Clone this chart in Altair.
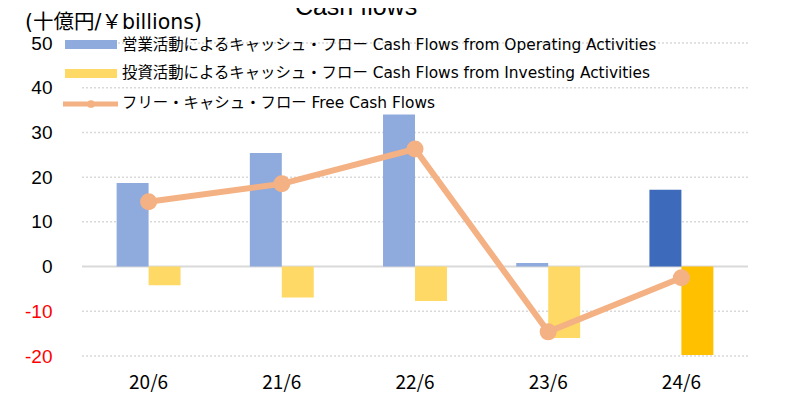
import altair as alt
import pandas as pd

periods = ["20/6", "21/6", "22/6", "23/6", "24/6"]
operating = [18.7, 25.4, 34.0, 0.8, 17.2]
investing = [-4.2, -6.9, -7.7, -16.0, -19.8]
free_cf = [14.5, 18.5, 26.3, -14.6, -2.5]
y_ticks = [-20, -10, 0, 10, 20, 30, 40, 50]
legend_labels = [
    "営業活動によるキャッシュ・フロー Cash Flows from Operating Activities",
    "投資活動によるキャッシュ・フロー Cash Flows from Investing Activities",
    "フリー・キャシュ・フロー Free Cash Flows",
]
title_text = "Cash flows"
unit_text = "(十億円/￥billions)"

C_OP = "#8FAADC"
C_INV = "#FFD966"
C_OP_HL = "#3D6ABA"
C_INV_HL = "#FFC000"
C_FCF = "#F4B183"
GRID = "#D9D9D9"
JP = "Noto Sans CJK JP"
LEG_FONT = "DejaVu Sans, Noto Sans CJK JP"

rows = []
for i, p in enumerate(periods):
    last = i == len(periods) - 1
    rows.append({"period": p, "series": "op", "value": operating[i],
                 "ck": "op_hl" if last else "op"})
    rows.append({"period": p, "series": "inv", "value": investing[i],
                 "ck": "inv_hl" if last else "inv"})
bar_df = pd.DataFrame(rows)
line_df = pd.DataFrame({"period": periods, "fcf": free_cf})
grid_df = pd.DataFrame({"v": [t for t in y_ticks if t != 0]})
zero_df = pd.DataFrame({"v": [0]})

xscale = alt.Scale(domain=periods, paddingInner=0.52, paddingOuter=0.26)
yscale = alt.Scale(domain=[-20, 50], nice=False)

x_axis = alt.Axis(title=None, domain=False, ticks=False, tickSize=0, labelAngle=0,
                  labelFontSize=19, labelFont=JP, labelColor="#000000", labelPadding=17)
y_axis = alt.Axis(title=None, values=y_ticks, grid=False, domain=False, ticks=False,
                  tickSize=0, labelFontSize=19, labelFont="Liberation Sans", labelPadding=30,
                  labelExpr="'' + datum.value",
                  labelColor={"condition": {"test": "datum.value < 0", "value": "#FF0000"},
                              "value": "#000000"})

bars = alt.Chart(bar_df).mark_bar().encode(
    x=alt.X("period:N", sort=periods, scale=xscale, axis=x_axis),
    xOffset=alt.XOffset("series:N", sort=["op", "inv"],
                        scale=alt.Scale(domain=["op", "inv"], paddingInner=0, paddingOuter=0)),
    y=alt.Y("value:Q", scale=yscale, axis=y_axis),
    color=alt.Color("ck:N", legend=None,
                    scale=alt.Scale(domain=["op", "inv", "op_hl", "inv_hl"],
                                    range=[C_OP, C_INV, C_OP_HL, C_INV_HL])),
)

grid = alt.Chart(grid_df).mark_rule(color=GRID, strokeWidth=1.5, strokeDash=[2, 2]).encode(
    y=alt.Y("v:Q", scale=yscale, axis=y_axis)
)
zero = alt.Chart(zero_df).mark_rule(color=GRID, strokeWidth=2).encode(
    y=alt.Y("v:Q", scale=yscale, axis=y_axis)
)

line = alt.Chart(line_df).mark_line(color=C_FCF, strokeWidth=6).encode(
    x=alt.X("period:N", sort=periods, scale=xscale, axis=x_axis),
    y=alt.Y("fcf:Q", scale=yscale, axis=y_axis),
)
pts = alt.Chart(line_df).mark_point(filled=True, color=C_FCF, size=290, opacity=1).encode(
    x=alt.X("period:N", sort=periods, scale=xscale, axis=x_axis),
    y=alt.Y("fcf:Q", scale=yscale, axis=y_axis),
)

def one(d):
    return alt.Chart(pd.DataFrame({"t": [d]}))

leg_rect1 = one(legend_labels[0]).mark_rect(color=C_OP).encode(
    x=alt.value(-17), x2=alt.value(35), y=alt.value(-3), y2=alt.value(6))
leg_rect2 = one(legend_labels[1]).mark_rect(color=C_INV).encode(
    x=alt.value(-17), x2=alt.value(35), y=alt.value(26), y2=alt.value(35))
leg_line = one(legend_labels[2]).mark_rule(color=C_FCF, strokeWidth=5).encode(
    x=alt.value(-19), x2=alt.value(36), y=alt.value(61))
leg_pt = one(legend_labels[2]).mark_point(filled=True, color=C_FCF, size=60, opacity=1).encode(
    x=alt.value(9), y=alt.value(61))

leg_texts = []
for lab, yy in zip(legend_labels, [2, 30, 60]):
    leg_texts.append(
        one(lab).mark_text(align="left", baseline="middle", fontSize=15.4, font=LEG_FONT,
                           color="#000000").encode(text="t:N", x=alt.value(40), y=alt.value(yy))
    )

title = one(title_text).mark_text(align="center", baseline="alphabetic", fontSize=25,
                                  font="Liberation Sans", color="#000000").encode(
    text="t:N", x=alt.value(274), y=alt.value(-28))
unit = one(unit_text).mark_text(align="left", baseline="middle", fontSize=20.5,
                                font="DejaVu Sans, Noto Sans CJK JP",
                                color="#000000").encode(
    text="t:N", x=alt.value(-57), y=alt.value(-20))

chart = alt.layer(
    grid, zero, bars, line, pts, leg_rect1, leg_rect2, leg_line, leg_pt, *leg_texts, title, unit
).properties(
    width=666, height=313,
    autosize=alt.AutoSizeParams(type="none"),
    padding={"left": 74, "top": 35, "right": 43, "bottom": 36},
    background="white",
).configure_view(stroke=None)

chart.save("out.html", embed_options={"renderer": "svg", "actions": False})
